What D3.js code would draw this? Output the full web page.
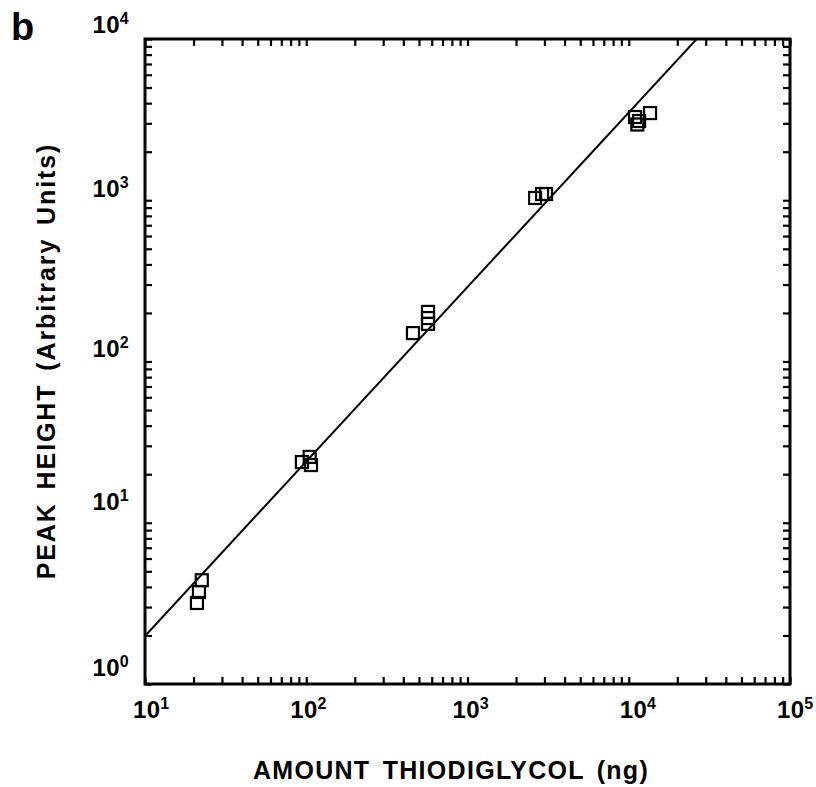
<!DOCTYPE html>
<html><head><meta charset="utf-8">
<script src="https://cdn.jsdelivr.net/npm/d3@7"></script>
<style>body{margin:0;background:#fff}text{font-family:"Liberation Sans",Arial,sans-serif;font-weight:bold;fill:#000}</style>
</head><body>
<svg id="c" width="816" height="787"></svg>
<script>
const xVals = [21, 21.6, 22.5, 94, 105, 107, 459, 569, 569, 569, 2625, 2900, 3070, 10940, 11590, 11300, 13550];
const yVals = [3.18, 3.72, 4.4, 23.8, 25.6, 22.8, 150, 203, 186, 171, 1033, 1093, 1093, 3283, 3100, 2950, 3473];
const xTickExp = [1, 2, 3, 4, 5];
const yTickExp = [0, 1, 2, 3, 4];
const fitIntercept = 0.298; // log10(y) at log10(x)=1
const fitSlope = 1.082;

const svg = d3.select("#c");
const L = 145, R = 790, T = 39, B = 684;
const x = d3.scaleLog().domain([10, 1e5]).range([L, R]);
const y = d3.scaleLog().domain([1, 1e4]).range([B, T]);

const g = svg.append("g");
g.append("rect").attr("x", L).attr("y", T).attr("width", R - L).attr("height", B - T)
  .attr("fill", "none").attr("stroke", "#000").attr("stroke-width", 3);

const minor = [];
for (let e = 1; e < 5; e++) for (let m = 1; m < 10; m++) minor.push(m * Math.pow(10, e));
minor.push(1e5);
const minorY = [];
for (let e = 0; e < 4; e++) for (let m = 1; m < 10; m++) minorY.push(m * Math.pow(10, e));
minorY.push(1e4);
const tl = 7;
function styleAx(s){ s.select(".domain").remove(); s.selectAll("line").attr("stroke","#000").attr("stroke-width",2.2); }
g.append("g").attr("transform", `translate(0,${B})`).call(d3.axisBottom(x).tickValues(minor).tickSize(-tl).tickFormat("")).call(styleAx);
g.append("g").attr("transform", `translate(0,${T})`).call(d3.axisTop(x).tickValues(minor).tickSize(-tl).tickFormat("")).call(styleAx);
g.append("g").attr("transform", `translate(${L},0)`).call(d3.axisLeft(y).tickValues(minorY).tickSize(-tl).tickFormat("")).call(styleAx);
g.append("g").attr("transform", `translate(${R},0)`).call(d3.axisRight(y).tickValues(minorY).tickSize(-tl).tickFormat("")).call(styleAx);

// tick labels
const xOff = {1: -12, 2: -16, 3: -15, 4: -9, 5: -13};
xTickExp.forEach(e => {
  const t = g.append("text").attr("x", x(Math.pow(10, e)) + xOff[e]).attr("y", 718)
    .attr("text-anchor", "start").attr("font-size", 24).attr("letter-spacing", 0.3);
  t.append("tspan").text("10");
  t.append("tspan").attr("font-size", 16).attr("dy", -9).text(e);
});
const yPos = {0: 676, 1: 510, 2: 357, 3: 197, 4: 33};
yTickExp.forEach(e => {
  const t = g.append("text").attr("x", 129).attr("y", yPos[e])
    .attr("text-anchor", "end").attr("font-size", 24).attr("letter-spacing", 0.3);
  t.append("tspan").text("10");
  t.append("tspan").attr("font-size", 16).attr("dy", -9).text(e);
});

// fit line
svg.append("clipPath").attr("id", "clip").append("rect").attr("x", L).attr("y", T).attr("width", R - L).attr("height", B - T);
const lx = [1, 5].map(v => Math.pow(10, v));
const fit = v => Math.pow(10, fitIntercept + fitSlope * (Math.log10(v) - 1));
g.append("line").attr("clip-path", "url(#clip)")
  .attr("x1", x(lx[0])).attr("y1", y(fit(lx[0])))
  .attr("x2", x(lx[1])).attr("y2", y(fit(lx[1])))
  .attr("stroke", "#000").attr("stroke-width", 2);

// points
const s = 12;
g.selectAll(".pt").data(xVals.map((v, i) => [v, yVals[i]])).join("rect")
  .attr("x", d => x(d[0]) - s / 2).attr("y", d => y(d[1]) - s / 2)
  .attr("width", s).attr("height", s)
  .attr("fill", "none").attr("stroke", "#000").attr("stroke-width", 2.2);

// titles
g.append("text").attr("x", 451).attr("y", 779).attr("text-anchor", "middle").attr("font-size", 25)
  .attr("letter-spacing", 1.3).attr("word-spacing", 4).text("AMOUNT THIODIGLYCOL (ng)");
g.append("text").attr("transform", "translate(55,361) rotate(-90)").attr("text-anchor", "middle")
  .attr("font-size", 25).attr("letter-spacing", 1.9).attr("word-spacing", 4).text("PEAK HEIGHT (Arbitrary Units)");
g.append("text").attr("x", 11).attr("y", 40).attr("font-size", 38).text("b");
</script>
</body></html>
